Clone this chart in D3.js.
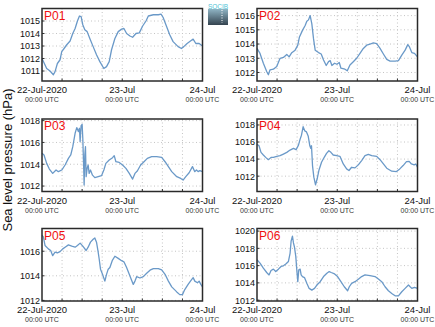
<!DOCTYPE html>
<html><head><meta charset="utf-8">
<script src="https://cdn.jsdelivr.net/npm/d3@7"></script>
<style>body{margin:0;background:#fff}svg{display:block}</style>
</head><body>
<svg id="c" width="435" height="327"></svg>
<script>
const titles = ["P01","P02","P03","P04","P05","P06"];
const xTickLabels = ["22-Jul-2020","23-Jul","24-Jul"];
const xTickHours = [0,24,48];
const xGridHours = [6,12,18,24,30,36,42];
const yLabel = "Sea level pressure (hPa)";

const p01h = [0,1.4,2.4,3.4,3.9,4.6,5.4,5.9,6.6,7.4,8.4,9.2,9.9,10.6,11.2,11.7,12.2,12.8,13.5,14.3,15.3,16.3,17.3,18.5,19.3,20.1,20.8,21.8,22.8,23.8,24.5,25.3,26.3,27.1,28.1,29.1,30.1,31.1,31.8,33.3,34.8,35.6,36.2,37.2,38.2,39.2,40.7,41.7,42.4,43.4,44.4,45.2,46.0,47.0,48];
const p01v = [1012.0,1011.2,1011.0,1010.7,1010.95,1011.6,1011.9,1012.55,1012.8,1013.1,1013.4,1014.0,1014.4,1015.0,1015.4,1015.35,1014.7,1014.3,1014.15,1013.6,1012.95,1012.3,1011.75,1011.2,1011.35,1011.75,1012.7,1013.6,1014.15,1014.35,1014.4,1014.0,1013.8,1013.7,1014.0,1014.05,1014.6,1015.0,1015.4,1015.5,1015.5,1015.55,1015.3,1014.6,1013.9,1013.35,1012.95,1012.8,1012.95,1013.2,1013.4,1013.55,1013.2,1013.2,1013.0];

const p02h = [0,0.9,1.9,2.9,3.4,3.9,4.9,5.9,6.9,7.9,8.9,9.6,10.4,11.4,12.2,12.7,13.6,14.4,14.9,15.4,15.9,16.4,16.9,17.4,18.4,19.2,19.9,20.7,21.4,21.9,22.4,23.2,23.9,24.6,25.1,26.3,27.0,27.8,28.8,29.8,30.8,31.8,32.8,33.8,34.8,35.8,36.8,37.8,38.8,39.8,41.3,42.3,43.3,44.3,45.1,45.6,46.3,47.1,48];
const p02v = [1013.69,1013.34,1012.65,1012.07,1011.84,1012.19,1012.23,1012.42,1013.0,1013.06,1013.27,1013.1,1013.39,1013.57,1013.92,1014.5,1014.96,1015.3,1015.6,1015.7,1016.0,1015.42,1014.38,1013.57,1013.4,1013.3,1012.88,1012.49,1012.76,1012.83,1012.49,1012.65,1012.58,1012.7,1012.3,1012.23,1012.12,1012.53,1012.76,1013.0,1013.34,1013.69,1013.92,1014.0,1014.08,1014.03,1013.69,1013.3,1012.92,1012.8,1012.8,1012.83,1013.22,1013.57,1013.96,1013.8,1013.4,1013.34,1013.1];

const p03h = [0,0.6,1.4,2.2,3.2,4.2,4.9,5.9,6.9,7.9,8.6,9.2,9.9,10.4,10.9,11.2,11.4,11.7,12.0,12.2,12.5,12.6,12.8,13.0,13.2,13.5,13.8,14.1,14.5,15.1,15.8,16.8,17.8,18.5,19.1,20.1,21.1,21.6,22.1,23.1,24.1,25.1,26.1,27.1,27.8,28.5,29.5,30.5,31.5,32.8,34.3,35.8,36.8,37.8,38.8,40.3,41.5,42.2,43.0,44.0,45.0,45.7,46.2,46.7,47.2,48];
const p03v = [1015.0,1014.85,1014.08,1013.56,1013.16,1013.47,1013.32,1013.47,1013.93,1014.54,1014.85,1015.61,1016.84,1017.36,1016.99,1017.3,1016.07,1017.54,1017.66,1016.38,1013.32,1012.09,1014.85,1015.61,1012.86,1013.62,1013.93,1013.16,1013.47,1013.0,1012.77,1012.86,1012.95,1013.47,1014.08,1014.39,1014.6,1014.79,1014.23,1014.17,1013.93,1013.62,1013.16,1012.64,1013.16,1013.38,1013.93,1014.23,1014.54,1014.69,1014.69,1014.63,1014.23,1013.78,1013.32,1012.86,1012.7,1012.55,1012.86,1013.22,1013.78,1013.32,1013.47,1013.32,1013.41,1013.32];

const p04h = [0,0.6,1.2,1.9,2.6,3.4,4.2,4.9,5.9,6.9,7.9,8.9,9.9,10.9,11.7,12.4,12.9,13.3,13.8,14.3,14.8,15.3,15.8,16.1,16.3,16.6,17.0,17.5,18.0,18.5,19.3,20.1,20.8,21.5,22.1,22.8,23.8,24.8,25.8,26.8,27.5,28.3,29.3,30.3,31.3,32.3,33.3,34.3,35.8,36.8,37.8,38.8,40.3,41.7,42.7,43.7,44.7,45.5,46.2,47.0,47.5,48];
const p04v = [1015.75,1015.56,1014.79,1014.48,1014.2,1013.93,1014.2,1014.2,1014.32,1014.4,1014.59,1014.79,1015.06,1015.25,1015.1,1015.64,1016.34,1016.8,1017.8,1017.3,1017.19,1016.72,1015.56,1015.25,1015.56,1013.24,1011.88,1010.99,1011.69,1012.66,1013.63,1014.21,1014.67,1014.98,1014.79,1014.48,1014.4,1014.32,1013.43,1012.85,1012.66,1013.04,1012.97,1013.32,1013.82,1014.4,1014.55,1014.4,1014.32,1013.93,1013.43,1012.93,1012.58,1012.54,1012.85,1013.24,1013.7,1013.74,1013.43,1013.32,1013.43,1013.04];

const p05h = [0,0.4,0.9,1.9,2.6,3.2,3.9,4.6,5.4,6.2,6.9,7.9,8.9,9.9,10.6,11.4,12.2,13.2,13.8,14.5,15.3,15.8,16.3,16.8,17.1,17.5,18.1,18.8,19.3,19.8,20.3,21.0,21.8,22.8,23.8,24.5,25.3,26.3,27.3,27.8,28.3,29.3,30.3,31.3,32.3,33.3,34.8,35.8,36.8,37.8,38.8,40.3,41.2,42.0,42.7,43.7,44.4,45.2,45.7,46.5,47.0,47.5,48];
const p05v = [1017.3,1017.16,1016.47,1016.19,1016.06,1015.64,1015.92,1015.86,1015.97,1016.19,1016.33,1016.52,1016.41,1016.33,1016.47,1016.66,1016.41,1016.06,1016.33,1016.74,1016.97,1017.08,1016.74,1015.92,1015.37,1014.54,1014.12,1013.57,1014.12,1014.54,1014.68,1015.23,1015.59,1015.42,1015.23,1015.14,1014.68,1013.99,1013.3,1013.57,1013.93,1013.82,1013.93,1014.21,1014.46,1014.59,1014.59,1014.48,1014.12,1013.57,1013.1,1012.69,1012.47,1012.47,1012.88,1013.3,1013.57,1013.85,1013.57,1013.43,1013.57,1013.3,1013.1];

const p06h = [0,0.9,1.9,2.9,3.6,4.2,4.9,5.6,6.4,7.2,7.9,8.7,9.4,9.9,10.2,10.6,10.9,11.2,11.6,11.9,12.2,12.5,12.9,13.2,13.6,14.2,14.9,15.6,16.4,17.2,17.9,18.9,19.9,20.9,21.6,22.2,23.2,24.1,25.1,26.1,27.1,27.6,28.3,29.3,30.3,31.3,32.3,33.8,35.3,36.3,37.3,38.3,39.3,40.3,41.3,42.3,43.3,44.3,45.3,45.8,46.3,47.1,48];
const p06v = [1016.68,1016.29,1015.7,1015.2,1014.92,1015.43,1015.59,1015.31,1015.59,1015.9,1015.98,1016.21,1016.48,1017.46,1018.83,1019.41,1018.63,1018.16,1017.07,1015.51,1014.14,1015.51,1015.59,1014.92,1014.73,1014.61,1013.95,1013.36,1013.16,1013.36,1013.75,1014.14,1014.73,1015.12,1015.31,1015.2,1015.04,1014.73,1014.14,1013.55,1013.09,1013.55,1013.95,1014.14,1014.41,1014.73,1014.92,1014.84,1014.73,1014.45,1014.14,1013.55,1013.09,1012.77,1012.5,1012.5,1012.97,1013.36,1013.75,1013.55,1013.36,1013.48,1013.36];

const yDomains = [[1010.2,1016.0],[1011.4,1016.5],[1011.5,1018.15],[1010.2,1018.7],[1011.95,1017.85],[1011.9,1020.3]];
const yTicks = [[1011,1012,1013,1014,1015],[1012,1013,1014,1015,1016],[1012,1014,1016,1018],[1012,1014,1016,1018],[1012,1014,1016],[1012,1014,1016,1018,1020]];

const hours = [p01h,p02h,p03h,p04h,p05h,p06h];
const values = [p01v,p02v,p03v,p04v,p05v,p06v];

const svg = d3.select("#c");
const font = "Liberation Sans, Arial, sans-serif";
const colX = [42, 257], pw = 160.5;
const rowY = [8.5, 119, 228.5], ph = 72.5;

titles.forEach((t, i) => {
  const x0 = colX[i % 2], y0 = rowY[Math.floor(i / 2)];
  const g = svg.append("g").attr("transform", `translate(${x0},${y0})`);
  const x = d3.scaleLinear().domain([0, 48]).range([0, pw]);
  const y = d3.scaleLinear().domain(yDomains[i]).range([ph, 0]);

  // grid
  g.selectAll(".hg").data(yTicks[i]).join("line")
    .attr("x1", 0).attr("x2", pw).attr("y1", d => y(d)).attr("y2", d => y(d))
    .attr("stroke", "#c4c4c4").attr("stroke-width", 1).attr("stroke-dasharray", "1,2.5");
  g.selectAll(".vg").data(xGridHours).join("line")
    .attr("y1", 0).attr("y2", ph).attr("x1", d => x(d)).attr("x2", d => x(d))
    .attr("stroke", "#c4c4c4").attr("stroke-width", 1).attr("stroke-dasharray", "1,2.5");

  // line
  const pts = hours[i].map((h, k) => [h, values[i][k]]);
  g.append("path").datum(pts)
    .attr("d", d3.line().x(d => x(d[0])).y(d => y(d[1])))
    .attr("fill", "none").attr("stroke", "#6a99c8").attr("stroke-width", 1.3)
    .attr("stroke-linejoin", "round");

  // inward ticks
  g.selectAll(".xt").data(xGridHours).join("line")
    .attr("x1", d => x(d)).attr("x2", d => x(d)).attr("y1", ph).attr("y2", ph - 2.5)
    .attr("stroke", "#333").attr("stroke-width", 1);
  g.selectAll(".yt").data(yTicks[i]).join("line")
    .attr("x1", 0).attr("x2", 2.5).attr("y1", d => y(d)).attr("y2", d => y(d))
    .attr("stroke", "#333").attr("stroke-width", 1);

  // frame
  g.append("rect").attr("x", 0).attr("y", 0).attr("width", pw).attr("height", ph)
    .attr("fill", "none").attr("stroke", "#2a2a2a").attr("stroke-width", 1.5);

  // y axis
  const ya = g.append("g").call(d3.axisLeft(y).tickValues(yTicks[i]).tickSize(0).tickPadding(2).tickFormat(d3.format("d")));
  ya.select(".domain").remove();
  ya.selectAll("text").attr("font-family", font).attr("font-size", 9).attr("fill", "#111");

  // x labels
  const xl = g.selectAll(".xl").data(xTickHours).join("g")
    .attr("transform", d => `translate(${x(d)},${ph})`);
  xl.append("text").text((d, k) => xTickLabels[k])
    .attr("y", 12.3).attr("text-anchor", "middle")
    .attr("font-family", font).attr("font-size", 9.5).attr("fill", "#111");
  xl.append("text").text("00:00 UTC")
    .attr("y", 21).attr("text-anchor", "middle")
    .attr("font-family", font).attr("font-size", 7).attr("fill", "#333");

  // title
  g.append("text").text(t).attr("x", 2).attr("y", 11)
    .attr("font-family", font).attr("font-size", 12).attr("fill", "#f01010");
});

// y label
svg.append("text").text(yLabel)
  .attr("transform", "translate(11.5,160) rotate(-90)")
  .attr("text-anchor", "middle")
  .attr("font-family", font).attr("font-size", 13).attr("fill", "#111");

// logo
const defs = svg.append("defs");
const lg = defs.append("linearGradient").attr("id", "lg").attr("x1", 0).attr("y1", 0).attr("x2", 0).attr("y2", 1);
lg.append("stop").attr("offset", "0%").attr("stop-color", "#8fb4c4");
lg.append("stop").attr("offset", "100%").attr("stop-color", "#34434f");
svg.append("rect").attr("x", 208).attr("y", 9).attr("width", 20).attr("height", 16).attr("fill", "url(#lg)");
svg.append("line").attr("x1", 222).attr("x2", 222).attr("y1", 10).attr("y2", 23)
  .attr("stroke", "#fff").attr("stroke-width", 1).attr("stroke-dasharray", "1,1.5");
svg.append("text").text("SOCIB").attr("x", 218).attr("y", 8.5).attr("text-anchor", "middle")
  .attr("font-family", font).attr("font-size", 6.5).attr("fill", "#4fc3d6").attr("textLength", 20);
</script>
</body></html>
